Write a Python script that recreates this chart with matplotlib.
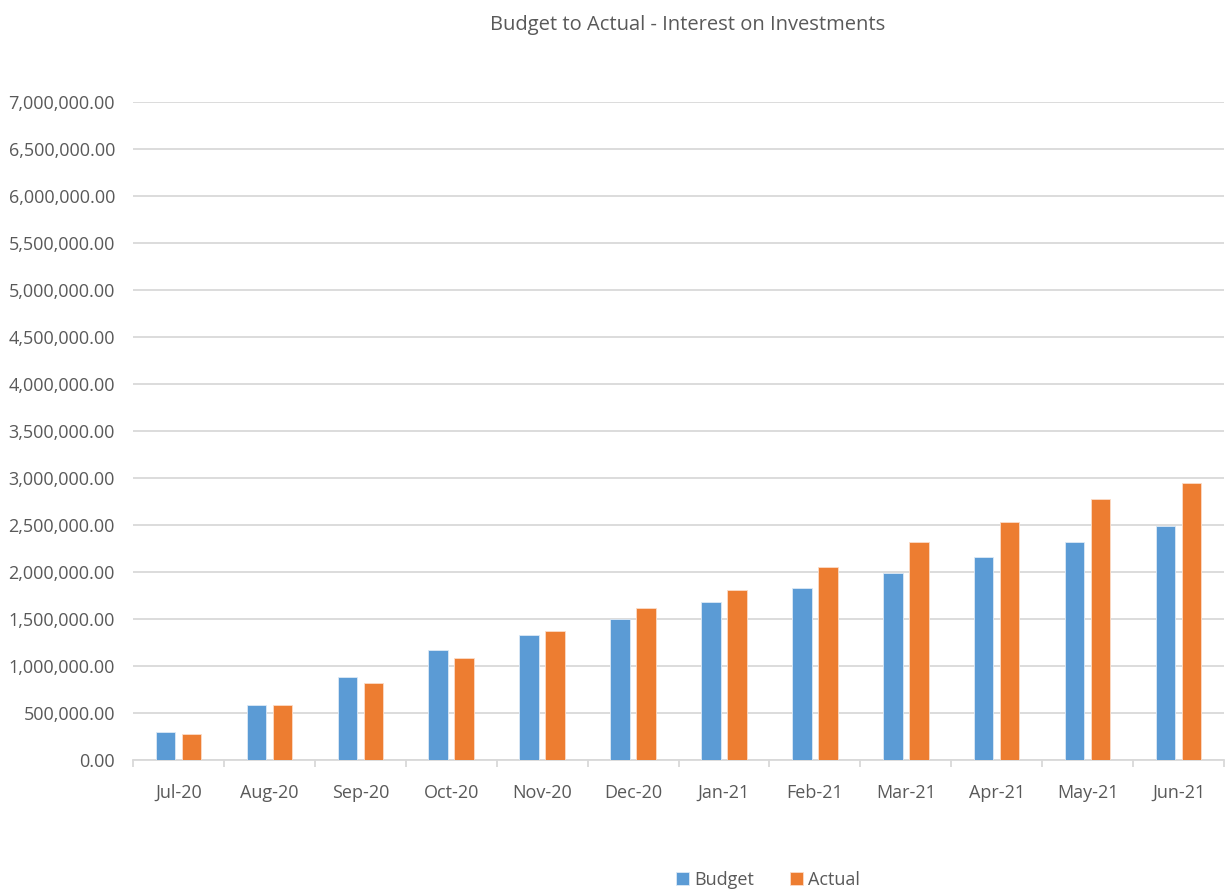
import numpy as np
import matplotlib.pyplot as plt
from matplotlib.ticker import FuncFormatter, FixedLocator

# data
meses = ["Jul-20", "Aug-20", "Sep-20", "Oct-20", "Nov-20", "Dec-20",
         "Jan-21", "Feb-21", "Mar-21", "Apr-21", "May-21", "Jun-21"]
budget = [295000, 582000, 887000, 1173000, 1326000, 1503000,
          1680000, 1832000, 1989000, 2162000, 2318000, 2489000]
actual = [274000, 582000, 822000, 1085000, 1372000, 1614000,
          1811000, 2053000, 2318000, 2534000, 2776000, 2949000]

plt.rcParams['font.family'] = ['Liberation Sans Narrow', 'Open Sans', 'DejaVu Sans']
COR_TXT = '#595959'

fig = plt.figure(figsize=(12.27, 8.93), dpi=100)
ax = fig.add_axes([133/1227, 133/893, 1091/1227, 658/893])

x = np.arange(len(meses))
w = 0.215
ax.bar(x - 0.143, budget, w, color='#5B9BD5', edgecolor='#DCE9F6', linewidth=0.6, label='Budget', zorder=3)
ax.bar(x + 0.143, actual, w, color='#ED7D31', edgecolor='#FBDCC8', linewidth=0.6, label='Actual', zorder=3)

ax.set_xlim(-0.5, len(meses) - 0.5)
ax.set_ylim(0, 7000000)
ax.set_yticks(np.arange(0, 7000001, 500000))
ax.yaxis.set_major_formatter(FuncFormatter(lambda v, p: f"{v:,.2f}"))
ax.set_xticks(x)
ax.set_xticklabels(meses)
ax.xaxis.set_minor_locator(FixedLocator(np.arange(-0.5, len(meses), 1)))

ax.grid(axis='y', color='#D9D9D9', linewidth=1.3, zorder=0)
for s in ['top', 'right', 'left']:
    ax.spines[s].set_visible(False)
ax.spines['bottom'].set_color('#D9D9D9')
ax.spines['bottom'].set_linewidth(1.3)

ax.tick_params(axis='y', length=0, pad=13, labelsize=13, labelcolor=COR_TXT)
ax.tick_params(axis='x', which='major', length=0, pad=17, labelsize=13, labelcolor=COR_TXT)
ax.tick_params(axis='x', which='minor', length=5, width=1.3, color='#D9D9D9')

fig.text(688/1227, 1 - 25/893, "Budget to Actual - Interest on Investments",
         ha='center', va='center', fontsize=14.5, color=COR_TXT)

fig.legend(loc='center', bbox_to_anchor=(768/1227, 1 - 880/893), ncol=2,
           frameon=False, fontsize=13, labelcolor=COR_TXT,
           handlelength=0.7, handleheight=0.7, handletextpad=0.3, columnspacing=2.0)

fig.savefig('out.png', dpi=100)
